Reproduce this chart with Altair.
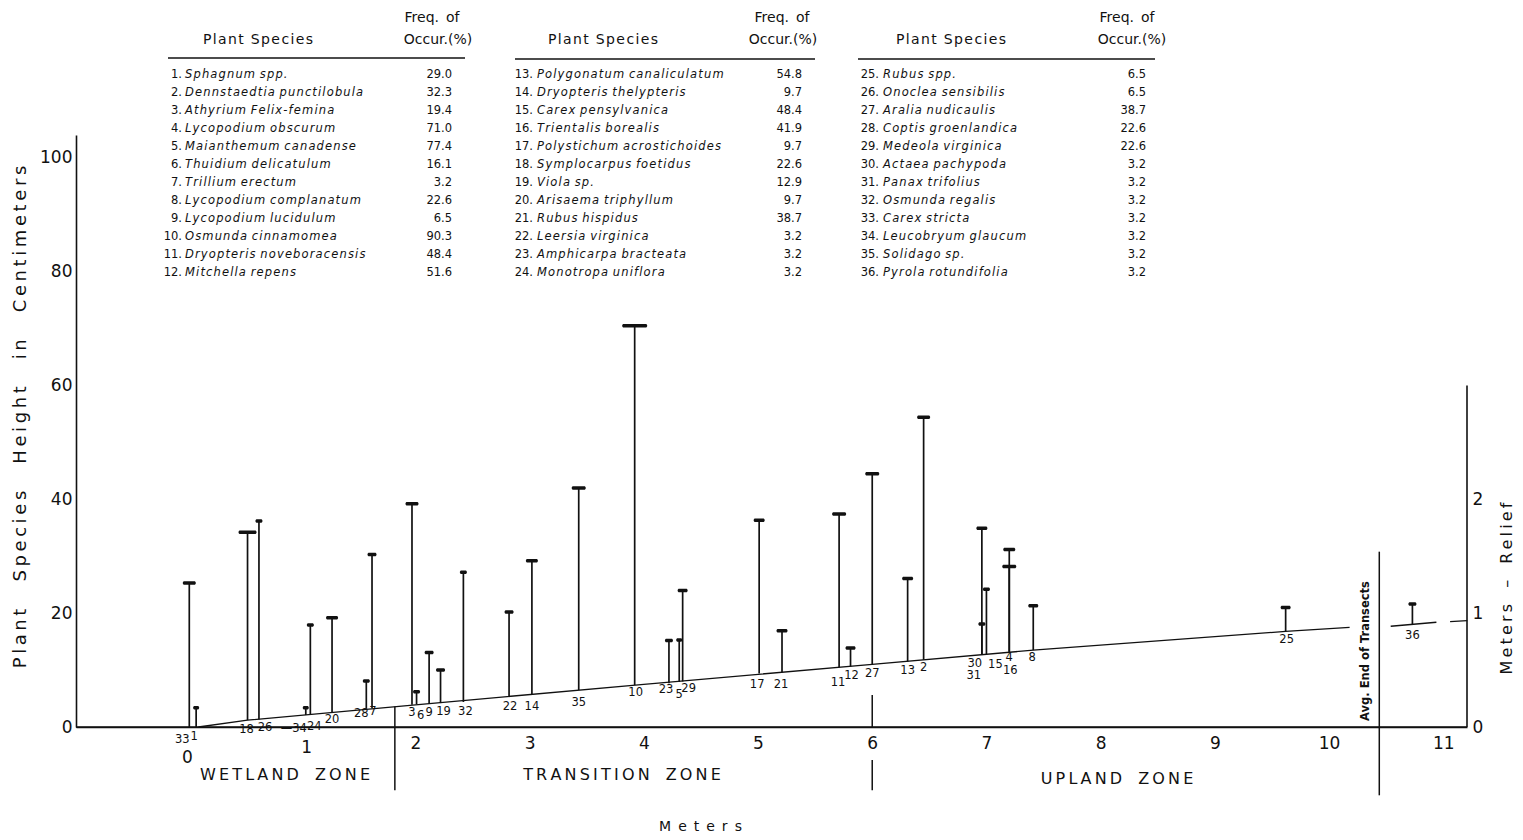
import altair as alt
import numpy as np
import pandas as pd

# ---------------- data ----------------
SPECIES = [
    "Sphagnum spp.", "Dennstaedtia punctilobula", "Athyrium Felix-femina",
    "Lycopodium obscurum", "Maianthemum canadense", "Thuidium delicatulum",
    "Trillium erectum", "Lycopodium complanatum", "Lycopodium lucidulum",
    "Osmunda cinnamomea", "Dryopteris noveboracensis", "Mitchella repens",
    "Polygonatum canaliculatum", "Dryopteris thelypteris", "Carex pensylvanica",
    "Trientalis borealis", "Polystichum acrostichoides", "Symplocarpus foetidus",
    "Viola sp.", "Arisaema triphyllum", "Rubus hispidus",
    "Leersia virginica", "Amphicarpa bracteata", "Monotropa uniflora",
    "Rubus spp.", "Onoclea sensibilis", "Aralia nudicaulis",
    "Coptis groenlandica", "Medeola virginica", "Actaea pachypoda",
    "Panax trifolius", "Osmunda regalis", "Carex stricta",
    "Leucobryum glaucum", "Solidago sp.", "Pyrola rotundifolia",
]
FREQ = [29.0, 32.3, 19.4, 71.0, 77.4, 16.1, 3.2, 22.6, 6.5, 90.3, 48.4, 51.6,
        54.8, 9.7, 48.4, 41.9, 9.7, 22.6, 12.9, 9.7, 38.7, 3.2, 3.2, 3.2,
        6.5, 6.5, 38.7, 22.6, 22.6, 3.2, 3.2, 3.2, 3.2, 3.2, 3.2, 3.2]
IDS = list(range(1, 37))

# stem position along transect (m), ground level at stem (cm), plant height top (cm)
STEM_X = [0.08, 6.45, 1.97, 7.20, 4.31, 2.01, 1.62, 7.41, 2.12, 3.92, 5.71, 5.81,
          6.31, 3.02, 7.00, 7.20, 5.01, 0.53, 2.22, 1.27, 5.21, 2.82, 4.22, 1.08,
          9.62, 0.63, 6.00, 1.57, 4.34, 6.96, 6.96, 2.42, 0.02, 1.04, 3.43, 10.73]
STEM_BASE = [0.0, 11.8, 3.9, 13.2, 7.9, 4.0, 3.3, 13.5, 4.1, 7.4, 10.5, 10.6,
             11.5, 5.6, 12.8, 13.2, 9.4, 1.2, 4.2, 2.6, 9.6, 5.3, 7.7, 2.2,
             16.8, 1.3, 11.0, 3.2, 8.0, 12.7, 12.7, 4.4, 0.0, 2.1, 6.5, 18.0]
STEM_TOP = [3.4, 54.4, 39.2, 31.2, 15.3, 6.2, 30.3, 21.3, 13.1, 70.5, 37.4, 13.9,
            26.1, 29.2, 24.2, 28.2, 36.3, 34.2, 10.0, 19.2, 16.9, 20.2, 15.2, 17.9,
            21.0, 36.2, 44.5, 8.1, 24.0, 34.9, 18.1, 27.2, 25.3, 3.4, 42.0, 21.6]

# ground surface profile (three drawn pieces)
GROUND_SEG = [0, 0, 0, 0, 0, 0, 0, 0, 1, 1, 2, 2]
GROUND_X = [0.10, 0.53, 2.00, 4.00, 6.00, 7.41, 9.62, 10.18, 10.54, 10.94, 11.06, 11.21]
GROUND_Y = [0.0, 1.2, 3.9, 7.5, 11.0, 13.5, 16.8, 17.5, 17.7, 18.4, 18.5, 18.7]

# zone dividers and end-of-transect line (m, from cm, to cm)
DIV_X = [1.82, 6.00, 6.00, 10.44]
DIV_Y0 = [3.6, 5.6, -5.8, 30.8]
DIV_Y1 = [-11.1, 0.0, -11.1, -12.0]

ZONES = ["WETLAND ZONE", "TRANSITION ZONE", "UPLAND ZONE"]
X_TICKS = list(range(0, 12))
Y_TICKS = [0, 20, 40, 60, 80, 100]
RELIEF_TICKS_M = [0, 1, 2]
RELIEF_AXIS_TOP_M = 3
CM_PER_RELIEF_M = 20

# ---------------- styles / layout ----------------
INK = "#111111"
FONT = "DejaVu Sans"
CAP_PX = {33: 13, 1: 6, 18: 18, 26: 7, 34: 6, 24: 7, 20: 12, 28: 7, 7: 9, 3: 13,
          6: 7, 9: 9, 19: 9, 32: 7, 22: 9, 14: 12, 35: 14, 10: 25, 23: 8, 5: 6,
          29: 10, 17: 11, 21: 11, 11: 14, 12: 10, 27: 14, 13: 11, 2: 13, 30: 11,
          31: 7, 15: 7, 4: 12, 16: 14, 8: 10, 25: 10, 36: 8}
LABEL_OFF = {33: (-7, 13), 1: (-2, 10), 18: (-1, 10), 26: (6, 8), 34: (-12, 14),
             24: (4, 12.5), 20: (0, 8), 28: (-5, 5), 7: (1, 3.5), 3: (0, 8),
             6: (4, 12), 9: (0, 9), 19: (3, 8.5), 32: (2, 10), 22: (1, 10.5),
             14: (0, 11.5), 35: (0, 12.7), 10: (1, 8.5), 23: (-3, 7), 5: (0, 13),
             29: (6, 7.5), 17: (-2, 11.5), 21: (-1, 12.6), 11: (-1, 16), 12: (1, 9.3),
             27: (0, 9.6), 13: (0, 9.4), 2: (0, 8.4), 30: (-7, 9.6), 31: (-8, 21.3),
             15: (9, 11), 4: (0, 6.4), 16: (1, 19), 8: (-1, 8), 25: (1, 9), 36: (0, 11)}

XMIN, XMAX = -0.972, 11.208
YMIN, YMAX = 0.0, 104.0
W, H = 1391, 592
PAD = {"left": 68, "top": 127, "right": 48, "bottom": 105}
VX0 = 8 + PAD["left"]
VY0 = 8 + PAD["top"]
PXM = W / (XMAX - XMIN)
PXC = H / (YMAX - YMIN)


def mx(page_x):
    return XMIN + (np.asarray(page_x, dtype=float) - VX0) / PXM


def cy(page_y):
    return YMIN + (VY0 + H - np.asarray(page_y, dtype=float)) / PXC


def spaced(s, gap="\u2009", word="\u2003"):
    return word.join(gap.join(w) for w in s.split(" "))


XS = alt.Scale(domain=[XMIN, XMAX], nice=False, zero=False)
YS = alt.Scale(domain=[YMIN, YMAX], nice=False, zero=False)

# ---------------- tables ----------------
stems = pd.DataFrame({"id": IDS, "x": STEM_X, "base": STEM_BASE, "top": STEM_TOP})
stems["cap"] = stems["id"].map(CAP_PX)
stems["label"] = stems["id"].astype(str)
stems.loc[stems["id"] == 34, "label"] = "\u201434"
stems["lx"] = stems["x"] + stems["id"].map(lambda i: LABEL_OFF[i][0]) / PXM
stems["ly"] = stems["base"] - stems["id"].map(lambda i: LABEL_OFF[i][1]) / PXC

ground = pd.DataFrame({"seg": GROUND_SEG, "x": GROUND_X, "y": GROUND_Y})
dividers = pd.DataFrame({"x": DIV_X, "y0": DIV_Y0, "y1": DIV_Y1})
baseline = pd.DataFrame({"y": [0.0]})

# species table at top
NUM_RIGHT = [182, 533, 879]
NAME_LEFT = [185, 537, 883]
VAL_RIGHT = [452, 802, 1146]
ROW0_Y, ROW_DY = 75, 18
tbl = pd.DataFrame({"id": IDS, "name": SPECIES, "freq": FREQ})
tbl["col"] = (tbl["id"] - 1) // 12
tbl["row"] = (tbl["id"] - 1) % 12
tbl["y"] = cy(ROW0_Y + tbl["row"] * ROW_DY)
tbl["xn"] = mx(np.array(NUM_RIGHT)[tbl["col"]])
tbl["xs"] = mx(np.array(NAME_LEFT)[tbl["col"]])
tbl["xv"] = mx(np.array(VAL_RIGHT)[tbl["col"]])
tbl["num"] = tbl["id"].astype(str) + "."
tbl["name_t"] = tbl["name"].map(lambda s: spaced(s, gap="\u200a", word=" \u200a"))
tbl["val"] = tbl["freq"].map(lambda v: f"{v:.1f}")

HEAD_TXT, HEAD_X, HEAD_Y = [], [], []
for c, (ps, fq, oc) in enumerate(zip([258, 603, 951], [432, 782, 1127], [438, 783, 1132])):
    HEAD_TXT += [spaced("Plant Species", gap="\u200a", word="\u2002"), "Freq.\u2002of", "Occur.(%)"]
    HEAD_X += [ps, fq, oc]
    HEAD_Y += [40, 18, 40]
heads = pd.DataFrame({"t": HEAD_TXT, "x": mx(HEAD_X), "y": cy(HEAD_Y)})
ulines = pd.DataFrame({"x0": mx([168, 515, 858]), "x1": mx([465, 815, 1155]),
                       "y": cy([58, 59, 59])})

zones = pd.DataFrame({"t": [spaced(z) for z in ZONES],
                      "x": mx([285, 622, 1117]), "y": cy([775, 775, 779])})
avg = pd.DataFrame({"t": ["Avg. End of Transects"], "x": mx([1366]), "y": cy([651])})
raxis = pd.DataFrame({"y0": [0], "y1": [RELIEF_AXIS_TOP_M * CM_PER_RELIEF_M]})

# ---------------- axes ----------------
AX_COMMON = dict(grid=False, ticks=False, tickSize=0, labelFontSize=17, labelFont=FONT,
                 labelColor=INK, labelFlush=False)
x_axis_main = alt.Axis(
    orient="bottom", values=X_TICKS[2:], format="d", labelPadding=8,
    domainColor=INK, domainWidth=1.6,
    title=spaced("Meters", gap="\u2002"), titleFont=FONT, titleFontSize=14,
    titleFontWeight="normal", titleColor=INK, titleX=624, titleY=99,
    titleAlign="center", titleBaseline="middle", **AX_COMMON,
)
x_axis_zero = alt.Axis(orient="bottom", values=X_TICKS[:1], format="d", labelPadding=22,
                       domain=False, title=None, **AX_COMMON)
x_axis_one = alt.Axis(orient="bottom", values=X_TICKS[1:2], format="d", labelPadding=12,
                      labelOffset=5, domain=False, title=None, **AX_COMMON)
y_axis_left = alt.Axis(
    orient="left", values=Y_TICKS, labelPadding=4,
    domainColor=INK, domainWidth=1.6,
    title=spaced("Plant Species Height in Centimeters", word="\u2003\u2002"),
    titleFont=FONT, titleFontSize=18, titleFontWeight="normal", titleColor=INK,
    titleAngle=270, titleX=-56, titleY=281.5, titleAlign="center", titleBaseline="middle",
    **AX_COMMON,
)
y_axis_right = alt.Axis(
    orient="right", values=[m * CM_PER_RELIEF_M for m in RELIEF_TICKS_M],
    labelExpr=f"format(datum.value / {CM_PER_RELIEF_M}, 'd')",
    domain=False, labelPadding=5, labelAlign="left",
    title=spaced("Meters \u2013 Relief"), titleFont=FONT, titleFontSize=16,
    titleFontWeight="normal", titleColor=INK, titleAngle=270, titleX=39, titleY=453,
    titleAlign="center", titleBaseline="middle", **AX_COMMON,
)

# ---------------- layers ----------------
stem_rules = alt.Chart(stems).mark_rule(color=INK, strokeWidth=1.7).encode(
    x=alt.X("x:Q", scale=XS, axis=x_axis_main),
    y=alt.Y("base:Q", scale=YS, axis=y_axis_left),
    y2="top:Q",
)
caps = alt.Chart(stems).mark_tick(orient="horizontal", color=INK, thickness=3.5,
                                  cornerRadius=1.5, opacity=1).encode(
    x=alt.X("x:Q", scale=XS, axis=x_axis_one),
    y=alt.Y("top:Q", scale=YS, axis=None),
    size=alt.Size("cap:Q", scale=None, legend=None),
)
labels = alt.Chart(stems).mark_text(font=FONT, fontSize=11.5, color=INK,
                                    baseline="middle", align="center").encode(
    x=alt.X("lx:Q", scale=XS, axis=None),
    y=alt.Y("ly:Q", scale=YS, axis=None),
    text="label:N",
)
ground_line = alt.Chart(ground).mark_line(color=INK, strokeWidth=1.3).encode(
    x=alt.X("x:Q", scale=XS, axis=x_axis_zero),
    y=alt.Y("y:Q", scale=YS, axis=None),
    detail="seg:N",
    order="x:Q",
)
base_rule = alt.Chart(baseline).mark_rule(color=INK, strokeWidth=1.6).encode(
    x=alt.value(0), x2=alt.value(W),
    y=alt.Y("y:Q", scale=YS, axis=None),
)
div_rules = alt.Chart(dividers).mark_rule(color=INK, strokeWidth=1.5).encode(
    x=alt.X("x:Q", scale=XS, axis=None),
    y=alt.Y("y0:Q", scale=YS, axis=None),
    y2="y1:Q",
)
right_axis = alt.Chart(raxis).mark_rule(color=INK, strokeWidth=1.6).encode(
    x=alt.value(W),
    y=alt.Y("y0:Q", scale=YS, axis=y_axis_right),
    y2="y1:Q",
)
zone_text = alt.Chart(zones).mark_text(font=FONT, fontSize=16, color=INK,
                                       baseline="middle", align="center").encode(
    x=alt.X("x:Q", scale=XS, axis=None), y=alt.Y("y:Q", scale=YS, axis=None), text="t:N")
avg_text = alt.Chart(avg).mark_text(font=FONT, fontSize=11.5, fontWeight="bold", color=INK,
                                    angle=270, baseline="middle", align="center").encode(
    x=alt.X("x:Q", scale=XS, axis=None), y=alt.Y("y:Q", scale=YS, axis=None), text="t:N")

num_text = alt.Chart(tbl).mark_text(font=FONT, fontSize=11.5, color=INK,
                                    baseline="middle", align="right").encode(
    x=alt.X("xn:Q", scale=XS, axis=None), y=alt.Y("y:Q", scale=YS, axis=None), text="num:N")
name_text = alt.Chart(tbl).mark_text(font=FONT, fontSize=11.5, fontStyle="italic", color=INK,
                                     baseline="middle", align="left").encode(
    x=alt.X("xs:Q", scale=XS, axis=None), y=alt.Y("y:Q", scale=YS, axis=None), text="name_t:N")
val_text = alt.Chart(tbl).mark_text(font=FONT, fontSize=11.5, color=INK,
                                    baseline="middle", align="right").encode(
    x=alt.X("xv:Q", scale=XS, axis=None), y=alt.Y("y:Q", scale=YS, axis=None), text="val:N")
head_text = alt.Chart(heads).mark_text(font=FONT, fontSize=14, color=INK,
                                       baseline="middle", align="center").encode(
    x=alt.X("x:Q", scale=XS, axis=None), y=alt.Y("y:Q", scale=YS, axis=None), text="t:N")
underline = alt.Chart(ulines).mark_rule(color=INK, strokeWidth=1.3).encode(
    x=alt.X("x0:Q", scale=XS, axis=None), x2="x1:Q",
    y=alt.Y("y:Q", scale=YS, axis=None))

chart = alt.layer(
    stem_rules, right_axis, ground_line, base_rule, div_rules, caps, labels, zone_text,
    avg_text, num_text, name_text, val_text, head_text, underline,
).resolve_axis(x="independent", y="independent").properties(
    width=W, height=H, padding=PAD, autosize=alt.AutoSizeParams(type="none"),
    background="white",
).configure_view(stroke=None)

chart.save("out.html", embed_options={"renderer": "svg", "actions": False})
